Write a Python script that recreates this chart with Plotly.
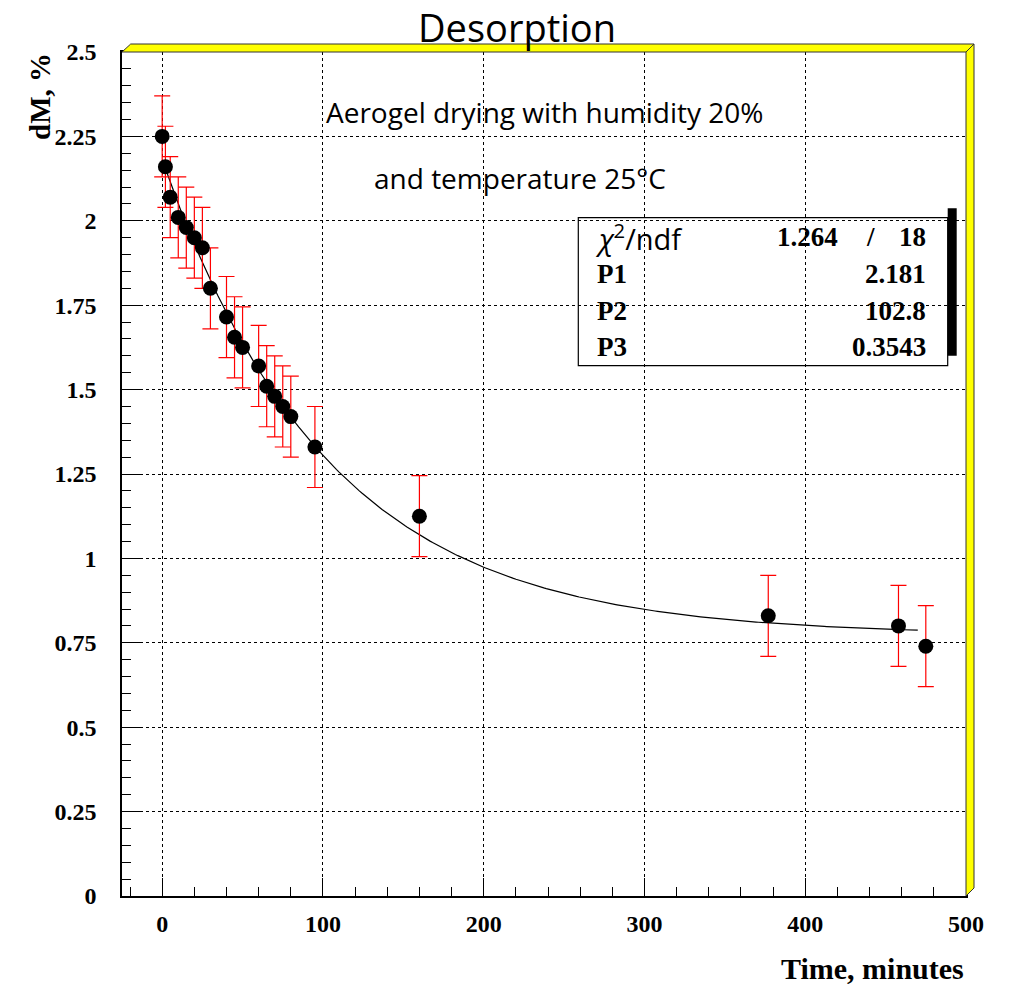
import numpy as np
import plotly.graph_objects as go

# ---------------- data ----------------
time_min = [0, 2, 5, 10, 15, 20, 25, 30, 40, 45, 50, 60, 65, 70, 75, 80, 95, 160, 377, 458, 475]
dm_pct = [2.25, 2.16, 2.07, 2.01, 1.98, 1.95, 1.92, 1.80, 1.715, 1.655, 1.625, 1.57, 1.51, 1.48,
          1.45, 1.42, 1.33, 1.125, 0.83, 0.80, 0.74]
dm_err = [0.12] * len(time_min)

# fit parameters (as shown in the stats box)
chi2, ndf = 1.264, 18
P1, P2, P3 = 2.181, 102.8, 0.3543
fit_range = [0, 470]

x_tickvals = [0, 100, 200, 300, 400, 500]
x_ticktext = ["0", "100", "200", "300", "400", "500"]
y_tickvals = [0, 0.25, 0.5, 0.75, 1, 1.25, 1.5, 1.75, 2, 2.25, 2.5]
y_ticktext = ["0", "0.25", "0.5", "0.75", "1", "1.25", "1.5", "1.75", "2", "2.25", "2.5"]

# ---------------- layout geometry (pixels) ----------------
W, H = 1013, 985
L, R, T, B = 122, 966, 52, 896


def px(x):
    return (x - L) / (R - L)


def py(y):
    return (B - y) / (B - T)


fit_x = np.linspace(fit_range[0], fit_range[1], 300)
fit_y = P1 * ((1 - P3) * np.exp(-fit_x / P2) + P3)

fig = go.Figure()
fig.add_trace(go.Scatter(x=fit_x, y=fit_y, mode="lines",
                         line=dict(color="black", width=1.2), hoverinfo="skip"))
fig.add_trace(go.Scatter(
    x=time_min, y=dm_pct, mode="markers",
    marker=dict(color="black", size=15),
    error_y=dict(type="data", array=dm_err, visible=True, color="red", thickness=1.2, width=8),
))

tick_font = dict(family="Liberation Serif", size=24, color="black", weight="bold")

fig.update_xaxes(
    range=[-25, 500], showline=True, linecolor="black", linewidth=1.5, mirror=True,
    tickmode="array", tickvals=x_tickvals, ticktext=x_ticktext,
    ticks="inside", ticklen=18, tickcolor="black", tickwidth=1,
    minor=dict(ticks="inside", ticklen=9, dtick=20, tick0=0, tickcolor="black", showgrid=False),
    showgrid=True, gridcolor="black", gridwidth=1, griddash="dot",
    tickfont=tick_font, ticklabelstandoff=5, zeroline=False,
)
fig.update_yaxes(
    range=[0, 2.5], showline=True, linecolor="black", linewidth=1.5, mirror=True,
    tickmode="array", tickvals=y_tickvals, ticktext=y_ticktext,
    ticks="inside", ticklen=18, tickcolor="black", tickwidth=1,
    minor=dict(ticks="inside", ticklen=9, dtick=0.05, tick0=0, tickcolor="black", showgrid=False),
    showgrid=True, gridcolor="black", gridwidth=1, griddash="dot",
    tickfont=tick_font, ticklabelstandoff=19, zeroline=False,
)

shapes = []
# yellow 3D frame: top band and right band
shapes.append(dict(type="path", xref="paper", yref="paper",
                   path=f"M {px(122)},{py(52)} L {px(130.7)},{py(44)} L {px(974)},{py(44)} L {px(966)},{py(52)} Z",
                   fillcolor="#ffff00", line=dict(color="#333333", width=1), layer="above"))
shapes.append(dict(type="path", xref="paper", yref="paper",
                   path=f"M {px(966)},{py(52)} L {px(974)},{py(44)} L {px(974)},{py(888)} L {px(966)},{py(896)} Z",
                   fillcolor="#ffff00", line=dict(color="#333333", width=1), layer="above"))
# stats box shadow and box
shapes.append(dict(type="rect", xref="paper", yref="paper",
                   x0=px(947.7), x1=px(956.7), y0=py(208.3), y1=py(355.7),
                   fillcolor="black", line=dict(width=0), layer="above"))
shapes.append(dict(type="rect", xref="paper", yref="paper",
                   x0=px(578.3), x1=px(947.7), y0=py(217.7), y1=py(365.7),
                   fillcolor="rgba(0,0,0,0)", line=dict(color="black", width=1.2), layer="above"))

ann = []
sans = "Open Sans"
ann.append(dict(text="Desorption", x=px(517), y=py(27), xref="paper", yref="paper",
                showarrow=False, xanchor="center", yanchor="middle",
                font=dict(family=sans, size=38, color="black")))
ann.append(dict(text="Aerogel drying with humidity 20%", x=px(544), y=py(112), xref="paper", yref="paper",
                showarrow=False, xanchor="center", yanchor="middle",
                font=dict(family=sans, size=28, color="black", weight=500)))
ann.append(dict(text="and temperature 25°C", x=px(520), y=py(178), xref="paper", yref="paper",
                showarrow=False, xanchor="center", yanchor="middle",
                font=dict(family=sans, size=28, color="black", weight=500)))

serif_b = dict(family="Liberation Serif", size=27, color="black", weight="bold")
row_y = [237, 274, 311, 347]
ann.append(dict(text="<i>χ</i><sup>2</sup>/ndf", x=px(593), y=py(row_y[0]), xref="paper", yref="paper",
                showarrow=False, xanchor="left", yanchor="middle",
                font=dict(family=sans, size=29, color="black")))
ann.append(dict(text=f"{chi2}", x=px(840), y=py(row_y[0]), xref="paper", yref="paper",
                showarrow=False, xanchor="right", yanchor="middle", font=serif_b))
ann.append(dict(text="/", x=px(870), y=py(row_y[0]), xref="paper", yref="paper",
                showarrow=False, xanchor="center", yanchor="middle", font=serif_b))
ann.append(dict(text=f"{ndf}", x=px(928), y=py(row_y[0]), xref="paper", yref="paper",
                showarrow=False, xanchor="right", yanchor="middle", font=serif_b))
for name, val, yy in [("P1", P1, row_y[1]), ("P2", P2, row_y[2]), ("P3", P3, row_y[3])]:
    ann.append(dict(text=name, x=px(595), y=py(yy), xref="paper", yref="paper",
                    showarrow=False, xanchor="left", yanchor="middle", font=serif_b))
    ann.append(dict(text=f"{val}", x=px(928), y=py(yy), xref="paper", yref="paper",
                    showarrow=False, xanchor="right", yanchor="middle", font=serif_b))

# axis titles
ann.append(dict(text="dM, %", x=px(40), y=py(97), xref="paper", yref="paper",
                showarrow=False, xanchor="center", yanchor="middle", textangle=-90,
                font=dict(family="Liberation Serif", size=29, color="black", weight="bold")))
ann.append(dict(text="Time, minutes", x=px(966), y=py(968), xref="paper", yref="paper",
                showarrow=False, xanchor="right", yanchor="middle",
                font=dict(family="Liberation Serif", size=30, color="black", weight="bold")))

fig.update_layout(
    width=W, height=H, autosize=False,
    margin=dict(l=L, r=W - R, t=T, b=H - B, pad=0),
    paper_bgcolor="white", plot_bgcolor="white",
    showlegend=False, shapes=shapes, annotations=ann,
)

fig.write_html("out.html")
